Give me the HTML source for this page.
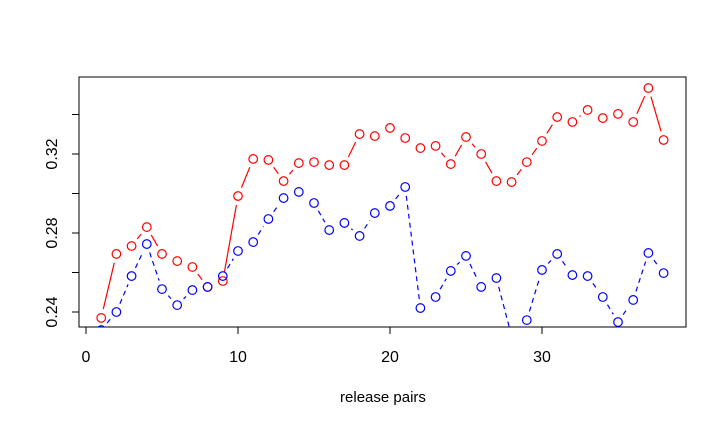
<!DOCTYPE html>
<html><head><meta charset="utf-8"><style>
body{margin:0;background:#fff;}
svg{display:block;font-family:"Liberation Sans",sans-serif;}
</style></head><body>
<svg id="chart" width="727" height="426">
<defs><clipPath id="pc"><rect x="79" y="77" width="607" height="250"/></clipPath></defs>
<rect x="79" y="77" width="607" height="250" fill="none" stroke="#000" stroke-width="1"/>
<g id="axes"></g>
<g id="series" clip-path="url(#pc)"></g>
<text x="383" y="402" text-anchor="middle" font-size="15">release pairs</text>
</svg>
<script>
const xTicks = [0, 10, 20, 30];
const yTicks = [0.24, 0.26, 0.28, 0.30, 0.32, 0.34];
const yLabels = ["0.24", "", "0.28", "", "0.32", ""];
const redValues = [0.2370,0.2694,0.2734,0.2830,0.2694,0.2658,0.2628,0.2527,0.2557,0.2987,0.3175,0.3170,0.3063,0.3154,0.3159,0.3144,0.3144,0.3301,0.3291,0.3332,0.3281,0.3230,0.3241,0.3149,0.3286,0.3200,0.3063,0.3058,0.3159,0.3266,0.3387,0.3362,0.3423,0.3382,0.3403,0.3362,0.3534,0.3271];
const blueValues = [0.2309,0.2400,0.2582,0.2744,0.2516,0.2435,0.2511,0.2527,0.2582,0.2709,0.2754,0.2871,0.2977,0.3008,0.2952,0.2815,0.2851,0.2785,0.2901,0.2937,0.3033,0.2420,0.2476,0.2608,0.2684,0.2527,0.2572,0.2278,0.2359,0.2613,0.2694,0.2587,0.2582,0.2476,0.2349,0.2461,0.2699,0.2597];
const NS="http://www.w3.org/2000/svg";
function X(v){return 86+15.2*v;}
function Y(v){return 312-(v-0.24)*1975;}
function mk(tag,attrs,parent){const e=document.createElementNS(NS,tag);for(const k in attrs)e.setAttribute(k,attrs[k]);parent.appendChild(e);return e;}
const axes=document.getElementById('axes');
const series=document.getElementById('series');
mk('line',{x1:X(0),x2:X(30),y1:327,y2:327,stroke:'#000'},axes);
xTicks.forEach(t=>{
  const l=mk('line',{x1:X(t),x2:X(t),y1:327,y2:334,stroke:'#000'},axes);
  
  
  const tx=mk('text',{x:X(t),y:362,'text-anchor':'middle','font-size':16},axes);
  tx.textContent=t;
  
  
});
mk('line',{x1:79,x2:79,y1:Y(0.24),y2:Y(0.34),stroke:'#000'},axes);
yTicks.forEach((t,i)=>{
  const l=mk('line',{x1:72,x2:79,y1:Y(t),y2:Y(t),stroke:'#000'},axes);
  
  
  if(yLabels[i]){
    const tx=mk('text',{x:0,y:0,'text-anchor':'middle','font-size':16,transform:`translate(57,${Y(t)}) rotate(-90)`},axes);
    tx.textContent=yLabels[i];
    
    
  }
});
function draw(vals,color,dash,name){
  const pts=vals.map((v,i)=>[X(i+1),Y(v)]);
  for(let i=0;i<pts.length-1;i++){
    const [x1,y1]=pts[i],[x2,y2]=pts[i+1];
    const d=Math.hypot(x2-x1,y2-y1);
    if(d<19)continue;
    const r=9/d;
    const a={x1:x1+(x2-x1)*r,y1:y1+(y2-y1)*r,x2:x2-(x2-x1)*r,y2:y2-(y2-y1)*r,stroke:color,'stroke-width':1.2};
    if(dash)a['stroke-dasharray']='5,4';
    const l=mk('line',a,series);
    
    
  }
  pts.forEach(p=>{
    const c=mk('circle',{cx:p[0],cy:p[1],r:4.3,fill:'none',stroke:color,'stroke-width':1.2},series);
    
    
  });
}
draw(redValues,'#ff0000',false,'red-series');
draw(blueValues,'#0000ff',true,'blue-series');
</script>
</body></html>
